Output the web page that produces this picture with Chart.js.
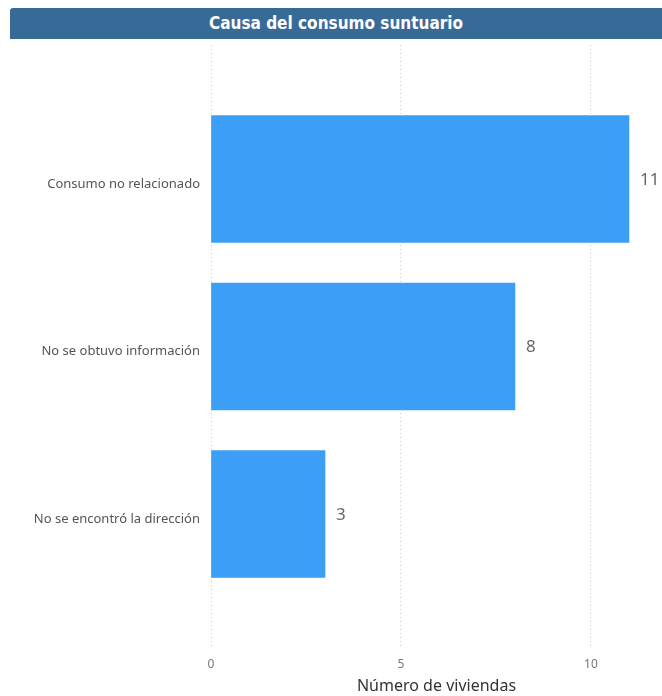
<!DOCTYPE html>
<html>
<head>
<meta charset="utf-8">
<script src="https://cdn.jsdelivr.net/npm/chart.js@4"></script>
<style>
  html, body { margin: 0; padding: 0; background: #fff; }
  #wrap { position: relative; width: 662px; height: 696px; }
  #titulo {
    position: absolute; left: 10px; top: 8px; width: 652px; height: 31px;
    background: #386a98; border-top-left-radius: 3px;
    color: #fff; text-align: center; line-height: 30px;
    font-family: "DejaVu Sans Condensed", "Liberation Sans Narrow", sans-serif;
    font-stretch: condensed; font-weight: bold; font-size: 17px;
  }
  #grafica { position: absolute; left: 0; top: 0; }
</style>
</head>
<body>
<div id="wrap">
  <canvas id="grafica" width="662" height="696"></canvas>
  <div id="titulo">Causa del consumo suntuario</div>
</div>
<script>
const categorias = ['Consumo no relacionado', 'No se obtuvo información', 'No se encontró la dirección'];
const viviendas = [11, 8, 3];
const ticksX = [0, 5, 10];

const FONT = '"Noto Sans", "Open Sans", sans-serif';

// etiqueta de valor a la derecha de cada barra
const etiquetas = {
  id: 'etiquetas',
  afterDatasetsDraw(chart) {
    const ctx = chart.ctx;
    const meta = chart.getDatasetMeta(0);
    ctx.save();
    ctx.fillStyle = '#666666';
    ctx.font = '17px ' + FONT;
    ctx.textAlign = 'left';
    ctx.textBaseline = 'middle';
    meta.data.forEach((bar, i) => {
      ctx.fillText(String(viviendas[i]), bar.x + 11, bar.y + 1);
    });
    ctx.restore();
  }
};

new Chart(document.getElementById('grafica'), {
  type: 'bar',
  data: {
    datasets: [{
      data: viviendas.map((v, i) => ({ x: v, y: i })),
      backgroundColor: '#3c9ff5',
      barThickness: 127
    }]
  },
  plugins: [etiquetas],
  options: {
    indexAxis: 'y',
    responsive: false,
    animation: false,
    layout: { padding: { top: 45, right: 0, bottom: 0, left: 0 } },
    plugins: { legend: { display: false }, tooltip: { enabled: false } },
    scales: {
      x: {
        type: 'linear',
        min: 0,
        max: 11.87,
        afterBuildTicks: (axis) => { axis.ticks = ticksX.map((v) => ({ value: v })); },
        afterFit: (axis) => { axis.height = 48; },
        border: { display: false, dash: [1, 3] },
        grid: { color: '#c8c8c8', lineWidth: 1, drawTicks: false },
        ticks: { color: '#777777', font: { family: FONT, size: 12 }, padding: 9 },
        title: {
          display: true,
          text: 'Número de viviendas',
          color: '#333333',
          font: { family: FONT, size: 16 },
          padding: { top: 0, bottom: 0 }
        }
      },
      y: {
        type: 'linear',
        reverse: true,
        offset: false,
        min: -0.8,
        max: 2.8,
        afterBuildTicks: (axis) => { axis.ticks = categorias.map((_, i) => ({ value: i })); },
        afterFit: (axis) => { axis.width = 211; },
        border: { display: false },
        grid: { display: false },
        ticks: {
          color: '#555555',
          font: { family: FONT, size: 13 },
          padding: 3,
          labelOffset: 5,
          callback: (v) => categorias[v] || ''
        }
      }
    }
  }
});
</script>
</body>
</html>
